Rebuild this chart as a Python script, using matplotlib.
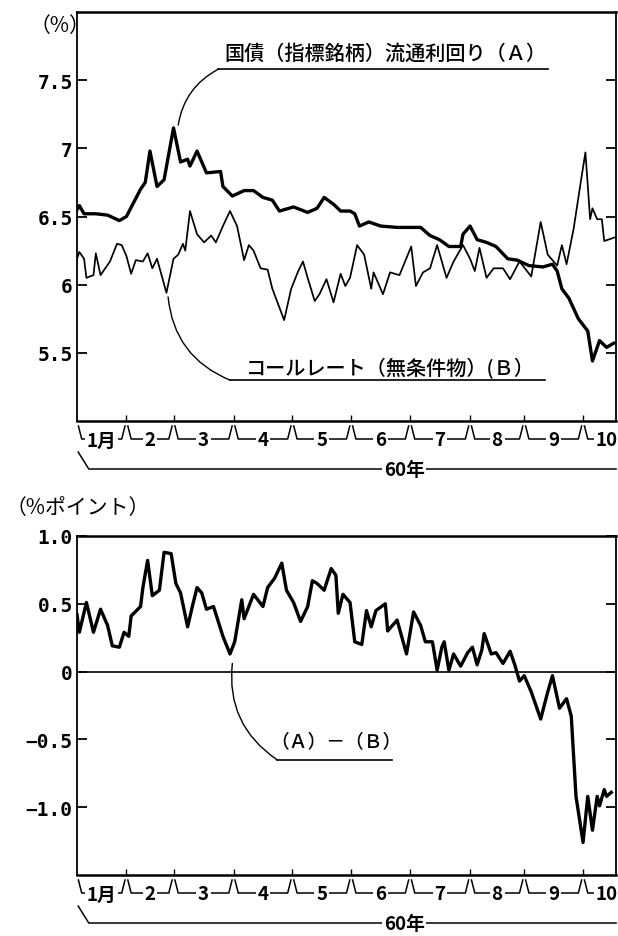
import matplotlib
matplotlib.use('Agg')
import matplotlib.pyplot as plt

plt.rcParams['font.family'] = ['Noto Sans CJK JP', 'DejaVu Sans']

# x = trading-day index from the start of 1985 (昭和60年)
month_edges = [0, 21, 41, 66.5, 91.5, 116.5, 141.5, 167, 190, 215]
month_labels = ['1月', '2', '3', '4', '5', '6', '7', '8', '9', '10']
x_end = 229

# (A) 国債(指標銘柄)流通利回り
a_days = [0, 1, 3, 8, 13, 18, 21, 27, 29, 31, 34, 37, 41, 44, 47, 48, 51, 55, 61, 62,
          66, 71, 75, 79, 83, 86, 92, 98, 102, 105, 109, 112, 116, 118, 120, 124, 129, 136, 146, 150,
          154, 158, 163, 164, 167, 170, 174, 178, 183, 187, 192, 198, 202, 204, 206, 209, 213, 217, 219, 222,
          225, 228]
a_rate = [6.55, 6.58, 6.52, 6.52, 6.51, 6.47, 6.50, 6.70, 6.75, 6.98, 6.72, 6.77, 7.15, 6.90, 6.92, 6.87, 6.98, 6.82, 6.83, 6.72,
          6.65, 6.69, 6.69, 6.64, 6.62, 6.54, 6.57, 6.53, 6.56, 6.64, 6.59, 6.54, 6.54, 6.52, 6.43, 6.46, 6.43, 6.42, 6.42, 6.36,
          6.33, 6.28, 6.28, 6.37, 6.43, 6.33, 6.31, 6.28, 6.19, 6.18, 6.14, 6.13, 6.15, 6.10, 5.97, 5.90, 5.75, 5.66, 5.44, 5.59,
          5.54, 5.57]

# (B) コールレート(無条件物)
b_days = [0, 1, 3, 4, 7, 8, 10, 14, 17, 19, 21, 23, 25, 28, 30, 32, 34, 38, 41, 43,
          45, 46, 48, 51, 54, 57, 59, 62, 65, 68, 71, 73, 75, 78, 81, 83, 88, 91, 94, 96,
          98, 101, 103, 106, 109, 112, 114, 116, 119, 122, 125, 126, 130, 133, 137, 142, 144, 147, 150, 153,
          157, 160, 164, 167, 169, 171, 174, 177, 181, 184, 188, 193, 197, 200, 204, 206, 208, 211, 214, 216,
          217, 218, 219, 221, 223, 224, 229]
b_rate = [6.19, 6.24, 6.19, 6.05, 6.07, 6.23, 6.07, 6.17, 6.30, 6.29, 6.21, 6.08, 6.18, 6.17, 6.23, 6.12, 6.19, 5.94, 6.19, 6.22,
          6.30, 6.25, 6.54, 6.37, 6.31, 6.36, 6.31, 6.43, 6.54, 6.43, 6.18, 6.29, 6.25, 6.12, 6.11, 5.97, 5.74, 5.97, 6.10, 6.17,
          6.05, 5.88, 5.93, 6.04, 5.87, 6.08, 5.99, 6.05, 6.29, 6.22, 5.97, 6.09, 5.93, 6.09, 6.07, 6.28, 5.99, 6.09, 6.12, 6.29,
          6.05, 6.17, 6.29, 6.19, 6.10, 6.27, 6.05, 6.12, 6.12, 6.04, 6.17, 6.06, 6.46, 6.22, 6.14, 6.29, 6.15, 6.41, 6.75, 6.97,
          6.73, 6.48, 6.56, 6.48, 6.48, 6.32, 6.35]

# (A)-(B)
d_days = [0, 1, 4, 7, 10, 13, 15, 18, 20, 22, 23, 27, 28, 30, 32, 35, 37, 40, 42, 44,
          47, 49, 51, 53, 55, 58, 62, 65, 67, 70, 71, 75, 79, 81, 84, 87, 89, 92, 95, 98,
          100, 102, 105, 108, 110, 111, 113, 116, 118, 121, 123, 125, 127, 131, 132, 136, 140, 143, 146, 148,
          151, 153, 155, 156, 158, 160, 163, 166, 168, 170, 172, 173, 176, 178, 181, 184, 186, 188, 190, 193,
          197, 200, 202, 205, 208, 210, 212, 215, 217, 219, 221, 222, 224, 225, 227]
d_spread = [0.42, 0.29, 0.51, 0.29, 0.46, 0.34, 0.19, 0.18, 0.29, 0.26, 0.41, 0.48, 0.62, 0.82, 0.56, 0.60, 0.88, 0.87, 0.65, 0.58,
            0.33, 0.48, 0.62, 0.58, 0.46, 0.48, 0.26, 0.13, 0.22, 0.53, 0.39, 0.57, 0.48, 0.62, 0.69, 0.80, 0.60, 0.51, 0.37, 0.48,
            0.67, 0.65, 0.60, 0.76, 0.71, 0.43, 0.57, 0.51, 0.22, 0.20, 0.45, 0.33, 0.45, 0.50, 0.30, 0.38, 0.13, 0.44, 0.34, 0.22,
            0.22, 0.01, 0.18, 0.22, 0.01, 0.13, 0.04, 0.14, 0.18, 0.05, 0.16, 0.28, 0.13, 0.14, 0.06, 0.15, 0.05, -0.07, -0.03, -0.15,
            -0.35, -0.15, -0.03, -0.27, -0.20, -0.33, -0.92, -1.26, -0.92, -1.17, -0.92, -0.99, -0.87, -0.92, -0.89]

top_ticks = [7.5, 7.0, 6.5, 6.0, 5.5]
top_ticklabels = ['7.5', '7', '6.5', '6', '5.5']
bot_ticks = [1.0, 0.5, 0.0, -0.5, -1.0]
bot_ticklabels = ['1.0', '0.5', '0', '−0.5', '−1.0']

W, H = 618, 937
fig = plt.figure(figsize=(W / 100, H / 100), dpi=100)
ax1 = fig.add_axes([77 / W, 1 - 422 / H, 539 / W, 409 / H])
ax2 = fig.add_axes([77 / W, 1 - 876 / H, 539 / W, 339 / H])


def style_axes(ax, ticks, labels):
    ax.set_xlim(0, x_end)
    ax.set_xticks(month_edges[1:])
    ax.set_xticklabels([])
    ax.tick_params(axis='x', direction='in', length=4, width=1)
    ax.set_yticks(ticks)
    ax.set_yticklabels(labels, fontfamily='DejaVu Sans Mono', fontsize=14,
                       fontweight='bold')
    ax.tick_params(axis='y', direction='in', length=7, width=1.3, pad=3,
                   left=True, right=True)
    for s in ax.spines.values():
        s.set_linewidth(1.3)
    ax.spines['top'].set_linewidth(1.8)
    ax.spines['bottom'].set_linewidth(1.8)


def month_brackets(ax):
    h = ax.get_position().height * H
    tr = ax.get_xaxis_transform()

    def fy(px):
        return -px / h

    kw = dict(color='black', lw=1.1, transform=tr, clip_on=False)
    tkw = dict(transform=tr, ha='center', va='center', fontsize=13.5, fontweight='bold',
               clip_on=False, zorder=5,
               bbox=dict(boxstyle='square,pad=0.1', fc='white', ec='none'))
    for i, lab in enumerate(month_labels):
        a = month_edges[i]
        if i + 1 < len(month_edges):
            b = month_edges[i + 1]
            ax.plot([a + 0.6, a + 2.0, b - 2.0, b - 0.6],
                    [fy(5), fy(18), fy(18), fy(5)], **kw)
            ax.text((a + b) / 2, fy(19), lab, **tkw)
        else:
            ax.plot([a + 0.6, a + 2.0, a + 5.5], [fy(5), fy(18), fy(18)], **kw)
            ax.text(a + 5.5, fy(19), lab, **dict(tkw, ha='left'))
    ax.plot([0.5, 5, x_end], [fy(31), fy(48), fy(48)], **kw)
    ax.text(139, fy(49), '60年', **tkw)


def leader(ax, start, end, rad):
    ax.annotate('', xy=end, xytext=start,
                arrowprops=dict(arrowstyle='-', lw=1.0, color='black',
                                connectionstyle='arc3,rad=%s' % rad,
                                shrinkA=0, shrinkB=0))


# upper panel
ax1.plot(a_days, a_rate, color='black', lw=2.4)
ax1.plot(b_days, b_rate, color='black', lw=1.25)
ax1.set_ylim(5.0, 8.0)
style_axes(ax1, top_ticks, top_ticklabels)
month_brackets(ax1)

ax1.text(131, 7.70, '国債（指標銘柄）流通利回り（Ａ）', ha='center', va='center',
         fontsize=14.5, fontweight='medium')
ax1.plot([60, 200], [7.58, 7.58], color='black', lw=1.2)
leader(ax1, (60, 7.58), (43, 7.17), 0.25)

ax1.text(133, 5.39, 'コールレート（無条件物）(Ｂ）', ha='center', va='center',
         fontsize=14.5, fontweight='medium')
ax1.plot([65, 199], [5.30, 5.30], color='black', lw=1.2)
leader(ax1, (65, 5.30), (38.7, 5.91), -0.3)

fig.text(30 / W, 1 - 26 / H, '（%）', ha='left', va='center', fontsize=15)

# lower panel
ax2.plot(d_days, d_spread, color='black', lw=2.4)
ax2.axhline(0, color='black', lw=1.2)
ax2.set_ylim(-1.5, 1.0)
style_axes(ax2, bot_ticks, bot_ticklabels)
month_brackets(ax2)

ax2.text(110, -0.51, '（Ａ）－（Ｂ）', ha='center', va='center', fontsize=13.5,
         fontweight='medium')
ax2.plot([85, 134], [-0.65, -0.65], color='black', lw=1.2)
leader(ax2, (85, -0.65), (66, 0.06), -0.3)

fig.text(6 / W, 1 - 508 / H, '（%ポイント）', ha='left', va='center', fontsize=15)

fig.savefig('out.png', dpi=100)
